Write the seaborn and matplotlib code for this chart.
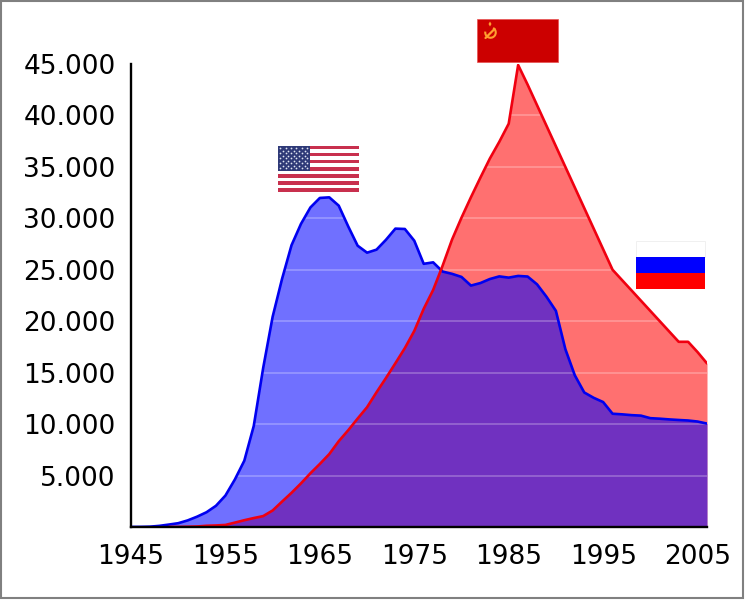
import numpy as np
import pandas as pd
import matplotlib
matplotlib.use("Agg")
import matplotlib.pyplot as plt
from matplotlib.patches import Rectangle, Polygon, Arc
import seaborn as sns

years = list(range(1945, 2007))
usa = [6, 11, 32, 110, 235, 369, 640, 1005, 1436, 2063, 3057, 4618, 6444, 9822, 15468,
       20434, 24126, 27387, 29459, 31056, 31982, 32040, 31233, 29224, 27342, 26662, 26956,
       27912, 28999, 28965, 27826, 25579, 25722, 24826, 24605, 24304, 23464, 23708, 24099,
       24357, 24237, 24401, 24344, 23586, 22380, 21004, 17287, 14747, 13076, 12555, 12144,
       11009, 10950, 10871, 10824, 10577, 10526, 10457, 10400, 10350, 10250, 10050]
ussr = [np.nan, np.nan, np.nan, np.nan, 1, 5, 25, 50, 120, 150, 200, 426, 660, 869, 1060,
        1605, 2471, 3322, 4238, 5221, 6129, 7089, 8339, 9399, 10538, 11643, 13092, 14478,
        15915, 17385, 19055, 21205, 23044, 25393, 27935, 30062, 32049, 33952, 35804, 37431,
        39197, 44900, 43000, 41000, 39000, 37000, 35000, 33000, 31000, 29000, 27000, 25000,
        24000, 23000, 22000, 21000, 20000, 19000, 18000, 18000, 17000, 15900]
x_ticks = [1945, 1955, 1965, 1975, 1985, 1995, 2005]
y_ticks = [5000, 10000, 15000, 20000, 25000, 30000, 35000, 40000, 45000]
y_labels = ["5.000", "10.000", "15.000", "20.000", "25.000", "30.000", "35.000", "40.000", "45.000"]

df = pd.DataFrame({"year": years, "USA": usa, "USSR": ussr})

sns.set_theme(style="white")
plt.rcParams["font.family"] = ["DejaVu Sans"]

W, H = 745, 600
fig = plt.figure(figsize=(W / 100, H / 100), dpi=100, facecolor="white")
ax = fig.add_axes([131 / W, 1 - 527 / H, (707 - 131) / W, (527 - 64) / H])

ax.fill_between(df["year"], df["USSR"].fillna(0), color="#ff0000", alpha=0.56, lw=0, zorder=1)
ax.fill_between(df["year"], df["USA"], color="#0000ff", alpha=0.56, lw=0, zorder=1.1)
sns.lineplot(data=df, x="year", y="USA", color="#0000f0", lw=1.9, ax=ax, zorder=3, legend=False)
sns.lineplot(data=df, x="year", y="USSR", color="#f00010", lw=1.9, ax=ax, zorder=3.1, legend=False)

ax.set_xlim(1945, 2006)
ax.set_ylim(0, 45000)
ax.set_xticks(x_ticks)
ax.set_yticks(y_ticks)
ax.set_yticklabels(y_labels)
ax.set_xlabel("")
ax.set_ylabel("")
ax.tick_params(axis="both", length=0, labelsize=19, labelcolor="black")
ax.tick_params(axis="x", pad=12)
ax.tick_params(axis="y", pad=11)
ax.set_axisbelow(False)
ax.grid(axis="y", color="white", alpha=0.3, lw=1.1, zorder=2)
ax.grid(axis="x", visible=False)
for s in ("top", "right"):
    ax.spines[s].set_visible(False)
for s in ("left", "bottom"):
    ax.spines[s].set_color("black")
    ax.spines[s].set_linewidth(1.7)
    ax.spines[s].set_zorder(5)

# decoration layer in pixel coordinates: frame and flags
ov = fig.add_axes([0, 0, 1, 1], facecolor="none")
ov.set_xlim(0, W)
ov.set_ylim(H, 0)
ov.axis("off")
ov.add_patch(Rectangle((0.5, 0.5), 742.5, 597.5, fill=False, ec="#808080", lw=1.5))

# USA flag
fx0, fy0, fw, fh = 277.5, 145.5, 81, 46.5
for i in range(13):
    c = "#c8304e" if i % 2 == 0 else "white"
    ov.add_patch(Rectangle((fx0, fy0 + i * fh / 13), fw, fh / 13, fc=c, ec="none"))
ov.add_patch(Rectangle((fx0, fy0), 32.5, fh * 7 / 13, fc="#2f3a78", ec="none"))
sx, sy = [], []
for r in range(9):
    n = 6 if r % 2 == 0 else 5
    off = 2.7 if r % 2 == 0 else 5.4
    for k in range(n):
        sx.append(fx0 + off + k * 5.4)
        sy.append(fy0 + 2.5 + r * 2.5)
ov.scatter(sx, sy, s=1.6, c="#dfe4f2", lw=0)

# USSR flag
emblem = "#ffa030"
ov.add_patch(Rectangle((477, 19), 81, 43, fc="#cc0000", ec="#e85050", lw=0.5))
ov.add_patch(Polygon([(490, 21.5), (491.5, 24), (490, 26.5), (488.5, 24)], fc=emblem, ec="none"))
ov.add_patch(Arc((490.5, 32.5), 10.5, 10.5, theta1=-60, theta2=190, ec=emblem, lw=1.5))
ov.plot([485.5, 494.5], [38, 29], color=emblem, lw=1.6, solid_capstyle="round")

# Russia flag
ov.add_patch(Rectangle((636, 240.5), 69, 16.3, fc="white", ec="#f0f0f0", lw=0.7))
ov.add_patch(Rectangle((636, 256.8), 69, 16.3, fc="#0000ff", ec="none"))
ov.add_patch(Rectangle((636, 273.1), 69, 16.3, fc="#ff0000", ec="none"))

fig.savefig("out.png", dpi=100, facecolor="white")
